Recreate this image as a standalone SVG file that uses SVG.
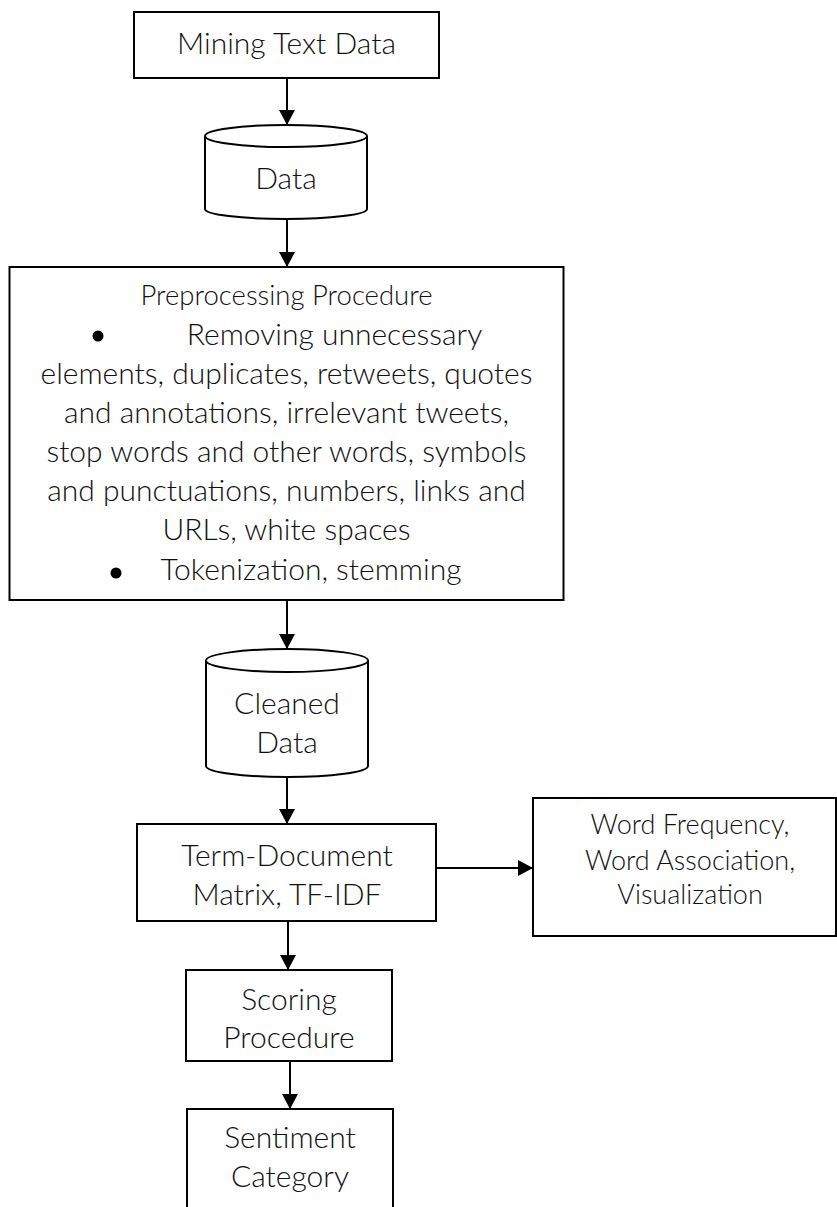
<svg xmlns="http://www.w3.org/2000/svg" width="837" height="1207" viewBox="0 0 837 1207">
<defs>
<marker id="ah" markerWidth="16" markerHeight="16" viewBox="0 0 16 16" refX="15" refY="8" orient="auto" markerUnits="userSpaceOnUse">
<path d="M0,0 L15,8 L0,16 Z" fill="#000"/>
</marker>
</defs>
<style>
.box{fill:#fff;stroke:#000;stroke-width:2}
.t{font-family:Lato,"Open Sans","Liberation Sans",sans-serif;font-weight:300;font-size:30px;fill:#111;text-anchor:middle}
.s{font-size:27.5px}
.w{font-size:27px}
.c{stroke:#000;stroke-width:2;fill:none;marker-end:url(#ah)}
</style>
<rect width="837" height="1207" fill="#fff"/>
<g id="connectors">
<line class="c" x1="287" y1="78" x2="287" y2="125"/>
<line class="c" x1="287" y1="219" x2="287" y2="267"/>
<line class="c" x1="287" y1="600" x2="287" y2="649"/>
<line class="c" x1="287" y1="777" x2="287" y2="824"/>
<line class="c" x1="288" y1="921" x2="288" y2="970"/>
<line class="c" x1="290" y1="1061" x2="290" y2="1109"/>
<line class="c" x1="436" y1="868" x2="533" y2="868"/>
</g>
<g id="mining">
<rect class="box" x="134" y="12" width="305" height="66"/>
<text class="t" x="286.5" y="54">Mining Text Data</text>
</g>
<g id="data">
<path class="box" d="M205,136 A81,11 0 0,1 367,136 L367,209 A81,10 0 0,1 205,209 Z"/>
<path class="box" d="M205,136 A81,11 0 0,0 367,136"/>
<text class="t" x="286" y="189">Data</text>
</g>
<g id="preprocessing">
<rect class="box" x="9.5" y="267" width="554" height="333"/>
<text class="t s" x="286.5" y="305">Preprocessing Procedure</text>
<circle cx="98" cy="336" r="5.5" fill="#000"/>
<text class="t" x="334.5" y="345">Removing unnecessary</text>
<text class="t" x="286.5" y="384">elements, duplicates, retweets, quotes</text>
<text class="t" x="286.5" y="423">and annotations, irrelevant tweets,</text>
<text class="t" x="286.5" y="462">stop words and other words, symbols</text>
<text class="t" x="286.5" y="501">and punctuations, numbers, links and</text>
<text class="t" x="286.5" y="540">URLs, white spaces</text>
<circle cx="116" cy="573" r="5.5" fill="#000"/>
<text class="t" x="311" y="580">Tokenization, stemming</text>
</g>
<g id="cleaned">
<path class="box" d="M206,660.5 A81,11.5 0 0,1 368,660.5 L368,766 A81,11 0 0,1 206,766 Z"/>
<path class="box" d="M206,660.5 A81,11.5 0 0,0 368,660.5"/>
<text class="t" x="287" y="714">Cleaned</text>
<text class="t" x="287" y="753">Data</text>
</g>
<g id="tdm">
<rect class="box" x="137" y="824" width="299" height="97"/>
<text class="t" x="287" y="866">Term-Document</text>
<text class="t" x="287" y="905">Matrix, TF-IDF</text>
</g>
<g id="wordfreq">
<rect class="box" x="533" y="798" width="303" height="138"/>
<text class="t w" x="690" y="834">Word Frequency,</text>
<text class="t w" x="690" y="870">Word Association,</text>
<text class="t w" x="690" y="904">Visualization</text>
</g>
<g id="scoring">
<rect class="box" x="186" y="970" width="206" height="91"/>
<text class="t" x="289" y="1010">Scoring</text>
<text class="t" x="289" y="1048">Procedure</text>
</g>
<g id="sentiment">
<rect class="box" x="187" y="1109" width="206" height="120"/>
<text class="t" x="290" y="1148">Sentiment</text>
<text class="t" x="290" y="1187">Category</text>
</g>
</svg>
